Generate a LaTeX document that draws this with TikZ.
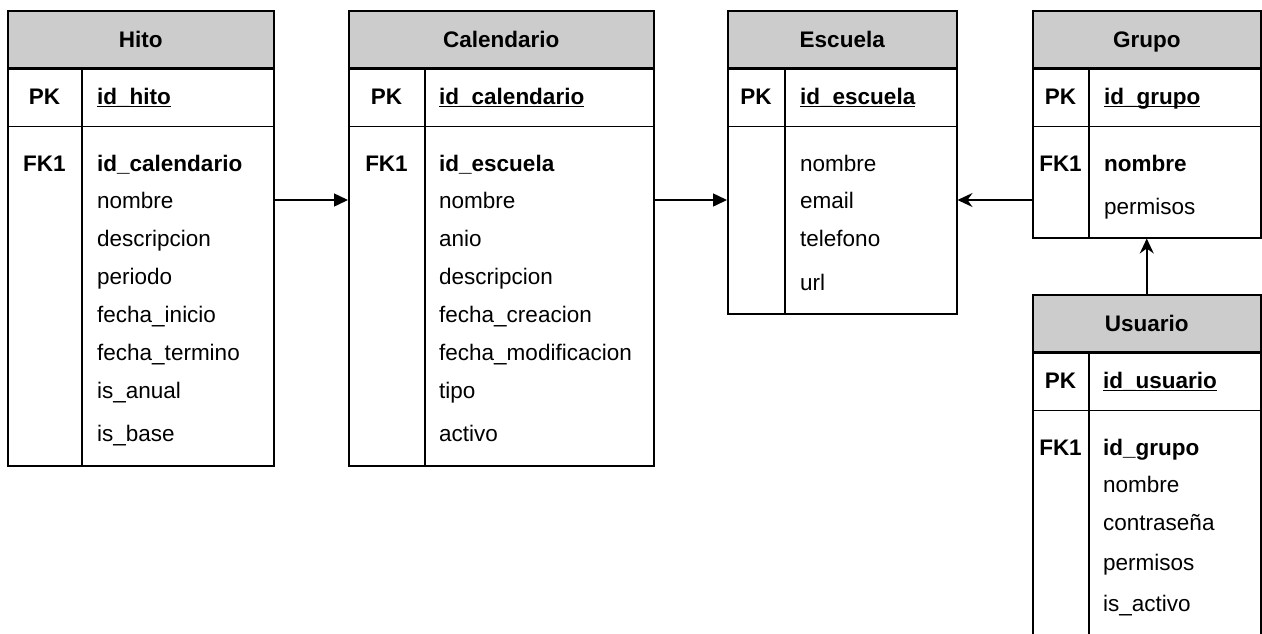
\documentclass[tikz,border=0pt]{standalone}
\usepackage{fontspec}
\setmainfont{Liberation Sans}
\usetikzlibrary{arrows.meta}
\definecolor{hdrgray}{HTML}{CCCCCC}
\newcommand\myul[1]{\setbox0\hbox{#1}\rlap{\rule[-3pt]{\wd0}{1.3pt}}\box0}
\tikzset{
  tabline/.style={line width=1.5pt, draw=black},
  tabbox/.style={tabline, anchor=north west, inner sep=0pt, fill=white},
  hdr/.style={tabline, fill=hdrgray, anchor=north west, inner sep=0pt, minimum height=57pt, font=\bfseries, text height=16pt, text depth=0pt},
  pkrow/.style={tabline, anchor=north west, inner sep=0pt, minimum height=57pt},
  txt/.style={inner sep=0pt, text height=16pt, text depth=0pt},
  keycol/.style={txt, anchor=center, font=\bfseries},
  fld/.style={txt, anchor=west},
  fldb/.style={txt, anchor=west, font=\bfseries},
  rel/.style={line width=1.5pt, draw=black},
  blk/.style={rel, -{Triangle[length=14pt,width=13pt]}},
  cls/.style={rel, -{Stealth[length=15pt,width=14pt,inset=5pt]}},
}
% name, x1, x2, xdiv, ytop, ybot, title
\newcommand\ertab[7]{%
  \node[tabbox, minimum width={#3-#2}, minimum height={#6-#5}] (#1) at (#2,#5) {};
  \node[hdr, minimum width={#3-#2}] (#1-h) at (#2,#5) {#7};
  \node[pkrow, minimum width={#3-#2}] (#1-p) at (#1-h.south west) {};
  \draw[tabline] (#4,{#5+57}) -- (#4,#6);
}
\begin{document}
\begin{tikzpicture}[x=1pt,y=-1pt]
\fontsize{22.5}{26}\selectfont
\useasboundingbox (0,0) rectangle (1262,633);
\clip (0,0) rectangle (1262,633);

% Hito
\ertab{hito}{7}{273}{82}{10}{465}{Hito}
\node[keycol] (hito-k0) at (44.5,96) {PK};
\node[fldb] (hito-r0) at (97,96) {\myul{id\_hito}};
\node[keycol] (hito-k1) at (44.5,163) {FK1};
\node[fldb] (hito-r1) at (97,163) {id\_calendario};
\node[fld] (hito-r2) at (97,200) {nombre};
\node[fld] (hito-r3) at (97,238) {descripcion};
\node[fld] (hito-r4) at (97,276) {periodo};
\node[fld] (hito-r5) at (97,314) {fecha\_inicio};
\node[fld] (hito-r6) at (97,352) {fecha\_termino};
\node[fld] (hito-r7) at (97,390) {is\_anual};
\node[fld] (hito-r8) at (97,433) {is\_base};

% Calendario
\ertab{cal}{348}{653}{425}{10}{465}{Calendario}
\node[keycol] (cal-k0) at (386.5,96) {PK};
\node[fldb] (cal-r0) at (439,96) {\myul{id\_calendario}};
\node[keycol] (cal-k1) at (386.5,163) {FK1};
\node[fldb] (cal-r1) at (439,163) {id\_escuela};
\node[fld] (cal-r2) at (439,200) {nombre};
\node[fld] (cal-r3) at (439,238) {anio};
\node[fld] (cal-r4) at (439,276) {descripcion};
\node[fld] (cal-r5) at (439,314) {fecha\_creacion};
\node[fld] (cal-r6) at (439,352) {fecha\_modificacion};
\node[fld] (cal-r7) at (439,390) {tipo};
\node[fld] (cal-r8) at (439,433) {activo};

% Escuela
\ertab{esc}{727}{956}{785}{10}{313}{Escuela}
\node[keycol] (esc-k0) at (756,96) {PK};
\node[fldb] (esc-r0) at (800,96) {\myul{id\_escuela}};
\node[fld] (esc-r1) at (800,163) {nombre};
\node[fld] (esc-r2) at (800,200) {email};
\node[fld] (esc-r3) at (800,238) {telefono};
\node[fld] (esc-r4) at (800,282) {url};

% Grupo
\ertab{gru}{1032}{1260}{1089}{10}{237}{Grupo}
\node[keycol] (gru-k0) at (1060.5,96) {PK};
\node[fldb] (gru-r0) at (1104,96) {\myul{id\_grupo}};
\node[keycol] (gru-k1) at (1060.5,163) {FK1};
\node[fldb] (gru-r1) at (1104,163) {nombre};
\node[fld] (gru-r2) at (1104,206) {permisos};

% Usuario
\ertab{usu}{1032}{1260}{1089}{294}{660}{Usuario}
\node[keycol] (usu-k0) at (1060.5,380) {PK};
\node[fldb] (usu-r0) at (1103,380) {\myul{id\_usuario}};
\node[keycol] (usu-k1) at (1060.5,447) {FK1};
\node[fldb] (usu-r1) at (1103,447) {id\_grupo};
\node[fld] (usu-r2) at (1103,484) {nombre};
\node[fld] (usu-r3) at (1103,522) {contraseña};
\node[fld] (usu-r4) at (1103,562) {permisos};
\node[fld] (usu-r5) at (1103,603) {is\_activo};

% relations
\draw[blk] (hito.east |- hito-r2.west) -- (cal.west |- hito-r2.west);
\draw[blk] (cal.east |- cal-r2.west) -- (esc.west |- cal-r2.west);
\draw[cls] (gru.west |- esc-r2.west) -- (esc.east |- esc-r2.west);
\draw[cls] (usu.north) -- (gru.south);
\end{tikzpicture}
\end{document}
